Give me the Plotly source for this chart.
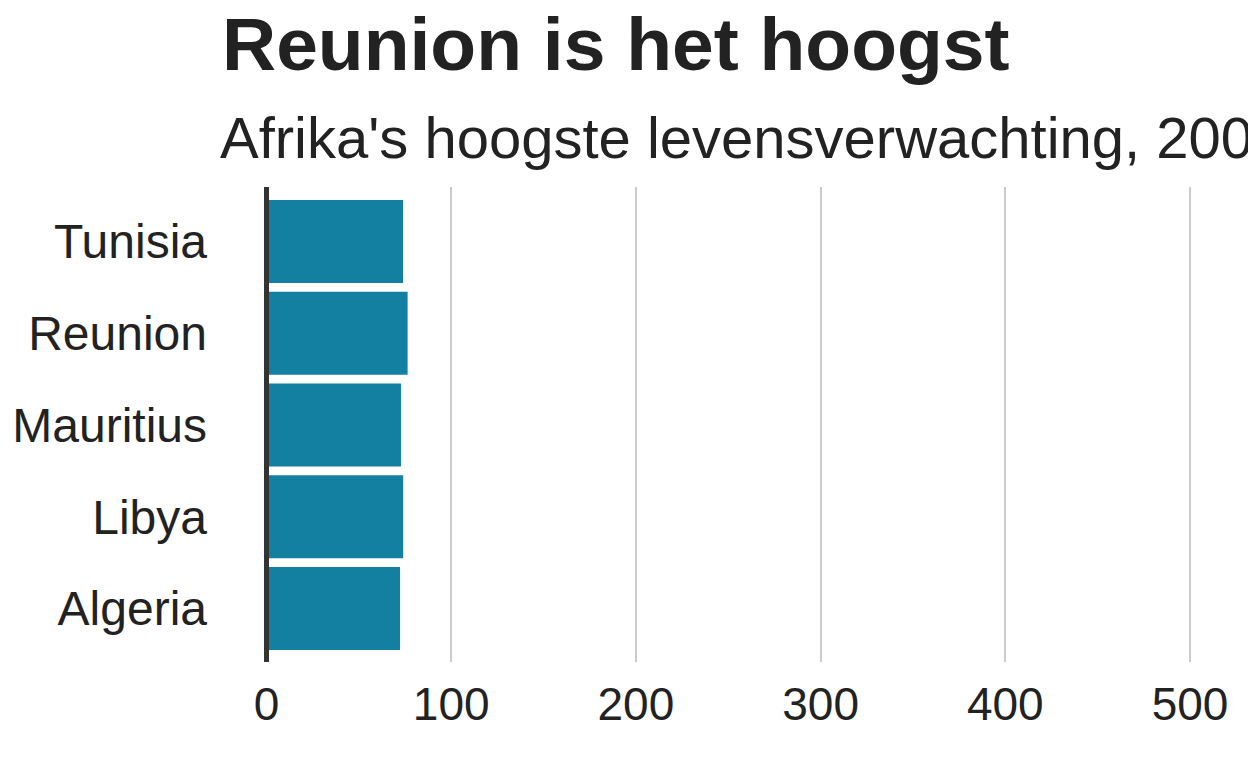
import plotly.graph_objects as go

countries = ["Algeria", "Libya", "Mauritius", "Reunion", "Tunisia"]
life_exp = [72.3, 74.0, 72.8, 76.4, 73.9]
x_ticks = [0, 100, 200, 300, 400, 500]

title_text = "Reunion is het hoogst"
subtitle_text = "Afrika's hoogste levensverwachting, 2007"

FONT = "Liberation Sans, Arial, sans-serif"

fig = go.Figure(go.Bar(
    x=life_exp, y=countries, orientation="h",
    marker=dict(color="#1380A1", line=dict(width=0)),
    hoverinfo="x+y",
))

L, R, T, B = 240, 0, 187, 106
W, H = 1248, 768
ph = H - T - B

def py(p):
    return (H - B - p) / ph

fig.update_layout(
    width=W, height=H,
    margin=dict(l=L, r=R, t=T, b=B, pad=0),
    paper_bgcolor="white", plot_bgcolor="white",
    bargap=0.095,
    showlegend=False,
    font=dict(family=FONT, color="#222222"),
    xaxis=dict(
        range=[-14.35, 531.4], tickvals=x_ticks, ticktext=[str(v) for v in x_ticks],
        showgrid=True, gridcolor="#cbcbcb", gridwidth=1.5,
        zeroline=False, showline=False, ticks="",
        tickfont=dict(size=46, color="#222222", family=FONT),
        ticklabelstandoff=11,
    ),
    yaxis=dict(
        range=[-0.583, 4.594], categoryorder="array", categoryarray=countries,
        showgrid=False, zeroline=False, showline=False, ticks="",
        tickfont=dict(size=48, color="#222222", family=FONT),
        ticklabelstandoff=32,
    ),
    shapes=[dict(type="line", xref="x", yref="paper", x0=0, x1=0, y0=0, y1=1,
                 line=dict(color="#333333", width=5), layer="above")],
    annotations=[
        dict(text="<b>" + title_text + "</b>", xref="paper", yref="paper",
             x=(220 - L) / (W - L - R), y=py(43.5), xanchor="left", yanchor="middle",
             showarrow=False, font=dict(size=75, color="#222222", family=FONT)),
        dict(text=subtitle_text, xref="paper", yref="paper",
             x=(218 - L) / (W - L - R), y=py(137.5), xanchor="left", yanchor="middle",
             showarrow=False, font=dict(size=58, color="#222222", family=FONT)),
    ],
)

fig.write_html(
    "out.html",
    config={"displayModeBar": False},
    post_script="document.body.style.margin='0';document.body.style.overflow='hidden';",
)
